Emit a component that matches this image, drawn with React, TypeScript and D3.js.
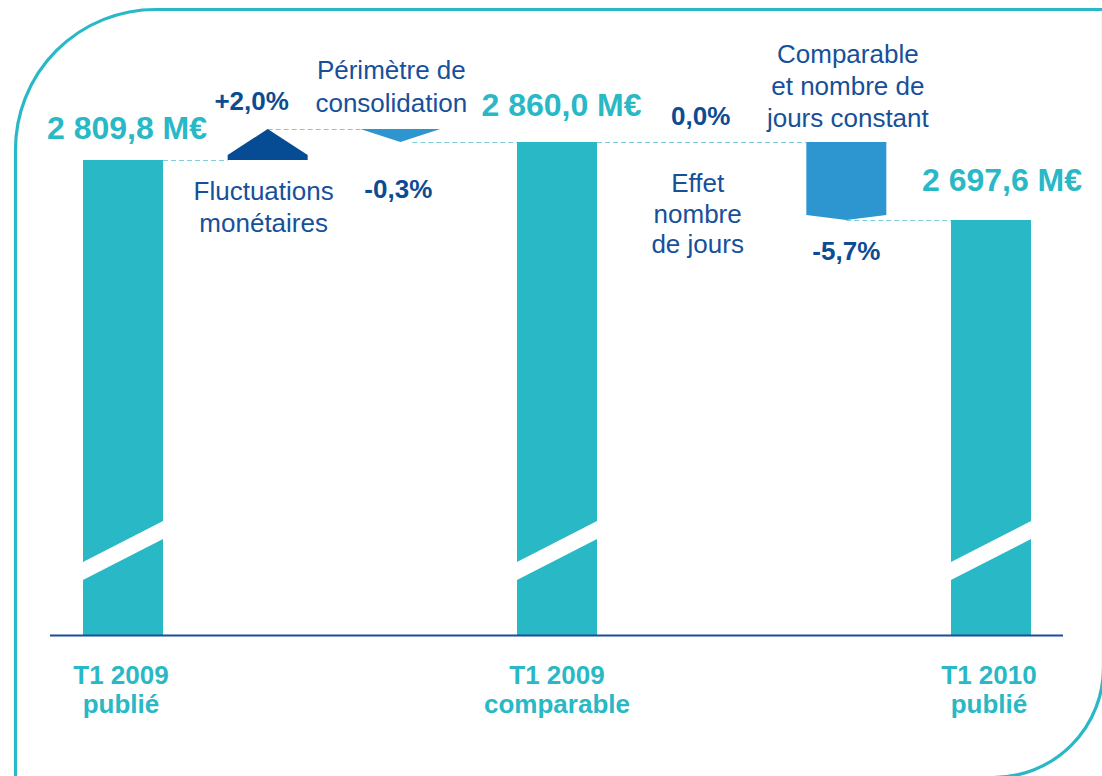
import React from "react";
import * as d3 from "d3";

// ---------- data ----------
const categories = [
  ["T1 2009", "publié"],
  ["T1 2009", "comparable"],
  ["T1 2010", "publié"],
];
const totals = [2809.8, 2860.0, 2697.6];
const totalLabels = ["2 809,8 M€", "2 860,0 M€", "2 697,6 M€"];

const stepNames = [
  ["Fluctuations", "monétaires"],
  ["Périmètre de", "consolidation"],
  ["Effet", "nombre", "de jours"],
  ["Comparable", "et nombre de", "jours constant"],
];
const stepPct = [2.0, -0.3, 0.0, -5.7];
const stepLabels = ["+2,0%", "-0,3%", "0,0%", "-5,7%"];
const stepStarts = [2809.8, 2866.0, 2860.0, 2860.0];
const stepEnds = [2866.0, 2860.0, 2860.0, 2697.6];

const slotKeys = ["t0", "s0", "s1", "t1", "s2", "s3", "t2"];
const totalSlots = ["t0", "t1", "t2"];
const stepSlots = ["s0", "s1", "s2", "s3"];

// ---------- layout / style ----------
const W = 1102;
const H = 776;
const BASE = 635;
const BAR_W = 80;
const ARROW_W = 80;
const stepNudge = [0, -12, 0, 0];
const tipDepth = [26, 13, 0, 5];
const stepColors = ["#064C94", "#2D95CF", "#2D95CF", "#2D95CF"];
const valueLabelOffset = [
  { dx: 4, dy: -21 },
  { dx: 4.5, dy: -26 },
  { dx: 11, dy: -29 },
];
const pctLabelPos = [
  { dx: -16, y: 110 },
  { dx: -2, y: 198 },
  { dx: -1, y: 125 },
  { dx: 0, y: 260 },
];
const descPos = [
  { dx: -4, y: 200, lh: 32 },
  { dx: -9, y: 79, lh: 33 },
  { dx: -4, y: 192, lh: 30.5 },
  { dx: 1.5, y: 63, lh: 32 },
];

const TEAL = "#28B8C6";
const NAVY = "#0D4B93";
const DESC = "#17509A";
const DASH = "#7ECFD9";
const FONT = "'Liberation Sans', Arial, Helvetica, sans-serif";

export default function App() {
  const x = d3.scalePoint<string>().domain(slotKeys).range([123, 991]);
  const y = d3
    .scaleLinear()
    .domain([2697.6, 2809.8, 2860.0, 2866.0])
    .range([220, 160, 142, 129]);

  const stepCx = stepSlots.map((k, i) => (x(k) as number) + stepNudge[i]);
  const totalCx = totalSlots.map((k) => x(k) as number);

  const arrowPath = (i: number) => {
    const cx = stepCx[i];
    const y0 = y(stepStarts[i]);
    const y1 = y(stepEnds[i]);
    if (Math.abs(y1 - y0) < 0.5) return null;
    const dir = Math.sign(y1 - y0);
    const t = Math.min(tipDepth[i], Math.abs(y1 - y0));
    const sh = y1 - dir * t;
    const l = cx - ARROW_W / 2;
    const r = cx + ARROW_W / 2;
    return d3.line()([
      [l, y0],
      [r, y0],
      [r, sh],
      [cx, y1],
      [l, sh],
    ]) + "Z";
  };

  const connectors: [number, number, number][] = [
    [totalCx[0] + BAR_W / 2, stepCx[0] - ARROW_W / 2, y(totals[0])],
    [stepCx[0], stepCx[1] - ARROW_W / 2, y(stepEnds[0])],
    [stepCx[1] + 12, totalCx[1] - BAR_W / 2, y(stepEnds[1])],
    [totalCx[1] + BAR_W / 2, stepCx[3] - ARROW_W / 2, y(totals[1])],
    [stepCx[3], totalCx[2] - BAR_W / 2, y(stepEnds[3])],
  ];

  const frame =
    "M15.5,800 L15.5,150 A140,140 0 0 1 155.5,9.5 L1103.5,9.5 L1103.5,667 A110,110 0 0 1 993.5,777.5 L15.5,777.5";

  return (
    <svg
      width={W}
      height={H}
      style={{ position: "absolute", left: 0, top: 0, background: "#fff" }}
      fontFamily={FONT}
    >
      <rect x={0} y={0} width={W} height={H} fill="#fff" />
      <path d={frame} fill="none" stroke={TEAL} strokeWidth={3.2} />

      {/* dashed connectors */}
      {connectors.map(([x0, x1, yy], i) => (
        <line
          key={"c" + i}
          x1={x0}
          x2={x1}
          y1={yy + 0.5}
          y2={yy + 0.5}
          stroke={DASH}
          strokeWidth={1.2}
          strokeDasharray="5,3"
        />
      ))}

      {/* total bars with break */}
      {totals.map((v, i) => {
        const cx = totalCx[i];
        const x0 = cx - BAR_W / 2;
        const x1 = cx + BAR_W / 2;
        const brk = d3.line()([
          [x0 - 2, BASE - 72],
          [x1 + 2, BASE - 115],
          [x1 + 2, BASE - 97],
          [x0 - 2, BASE - 54],
        ]) + "Z";
        return (
          <g key={"b" + i}>
            <rect x={x0} y={y(v)} width={BAR_W} height={BASE - y(v)} fill={TEAL} />
            <path d={brk} fill="#fff" />
          </g>
        );
      })}

      {/* axis */}
      <line x1={50} x2={1063} y1={BASE + 0.5} y2={BASE + 0.5} stroke="#1A4F98" strokeWidth={2} />

      {/* step arrows */}
      {stepPct.map((p, i) => {
        const d = arrowPath(i);
        return d ? <path key={"a" + i} d={d} fill={stepColors[i]} /> : null;
      })}

      {/* value labels */}
      {totalLabels.map((t, i) => (
        <text
          key={"v" + i}
          x={totalCx[i] + valueLabelOffset[i].dx}
          y={y(totals[i]) + valueLabelOffset[i].dy}
          textAnchor="middle"
          fontSize={32}
          fontWeight="bold"
          fill={TEAL}
        >
          {t}
        </text>
      ))}

      {/* pct labels */}
      {stepLabels.map((t, i) => (
        <text
          key={"p" + i}
          x={stepCx[i] + pctLabelPos[i].dx}
          y={pctLabelPos[i].y}
          textAnchor="middle"
          fontSize={26}
          fontWeight="bold"
          fill={NAVY}
        >
          {t}
        </text>
      ))}

      {/* step descriptions */}
      {stepNames.map((lines, i) => (
        <text
          key={"d" + i}
          x={stepCx[i] + descPos[i].dx}
          y={descPos[i].y}
          textAnchor="middle"
          fontSize={26}
          fill={DESC}
        >
          {lines.map((ln, j) => (
            <tspan key={j} x={stepCx[i] + descPos[i].dx} y={descPos[i].y + j * descPos[i].lh}>
              {ln}
            </tspan>
          ))}
        </text>
      ))}

      {/* category labels */}
      {categories.map((lines, i) => (
        <text
          key={"k" + i}
          x={totalCx[i]}
          y={684}
          textAnchor="middle"
          fontSize={26}
          fontWeight="bold"
          fill={TEAL}
        >
          {lines.map((ln, j) => (
            <tspan key={j} x={totalCx[i] - (i === 0 ? 2 : i === 2 ? 2 : 0)} y={684 + j * 29}>
              {ln}
            </tspan>
          ))}
        </text>
      ))}
    </svg>
  );
}
